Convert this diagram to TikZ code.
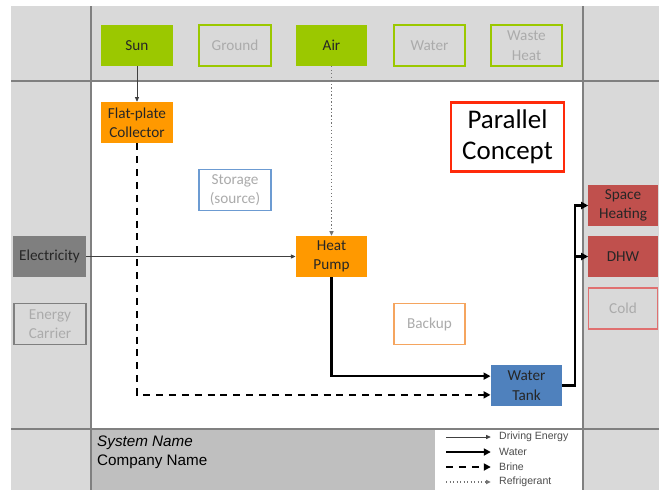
\documentclass[tikz,border=0pt]{standalone}
\usepackage[dvipsnames]{xcolor}
\usepackage{fontspec}
\setmainfont{Carlito}
\newfontfamily\arialfont{Liberation Sans}
\usetikzlibrary{arrows.meta}

\definecolor{bgcol}{HTML}{D9D9D9}
\definecolor{footcol}{HTML}{BFBFBF}
\definecolor{linecol}{HTML}{808080}
\definecolor{greenc}{HTML}{9BC800}
\definecolor{orangec}{HTML}{FF9900}
\definecolor{redc}{HTML}{C0504D}
\definecolor{tankc}{HTML}{4F81BD}
\definecolor{elecc}{HTML}{7F7F7F}
\definecolor{storc}{HTML}{6C9BD2}
\definecolor{backc}{HTML}{F5A55F}
\definecolor{coldc}{HTML}{E07070}
\definecolor{pcred}{HTML}{FF2A0A}

\begin{document}
\begin{tikzpicture}[x=0.03cm, y=-0.03cm]
  \tikzstyle{unit}=[rectangle, minimum width=61pt, minimum height=35pt, inner sep=0pt, align=center, font=\fontsize{13}{16.5}\selectfont]
  \tikzstyle{full}=[unit, text=black!85]
  \tikzstyle{open}=[unit, line width=1.5pt, text=black!33]
  \tikzstyle{drive}=[-{Triangle[length=4pt,width=3.5pt]}, line width=0.6pt, black!75]
  \tikzstyle{water}=[-{Triangle[length=6pt,width=6pt]}, line width=1.8pt, black]
  \tikzstyle{brine}=[water, dash pattern=on 6pt off 5pt]
  \tikzstyle{refr}=[-{Triangle[length=4pt,width=3.5pt]}, line width=1pt, dotted, black!55]
  \tikzstyle{legtext}=[anchor=west, inner sep=0pt, font=\arialfont\fontsize{9}{10}\selectfont, text=black!70]

  \clip (0,0) rectangle (659,490);
  % frame
  \fill[bgcol] (11,6) rectangle (659,490);
  \fill[white] (91,81) rectangle (583,429);
  \fill[footcol] (91,429) rectangle (435,490);
  \fill[white] (435,429) rectangle (583,490);
  \draw[linecol, line width=1.2pt] (91,6) -- (91,490);
  \draw[linecol, line width=1.2pt] (583,6) -- (583,490);
  \draw[linecol, line width=1.2pt] (11,81) -- (659,81);
  \draw[linecol, line width=1.2pt] (11,429) -- (659,429);

  % sources
  \node[full, fill=greenc] (N_sun) at (137,45.5) {Sun};
  \node[open, draw=greenc] (N_ground) at (235,45.5) {Ground};
  \node[full, fill=greenc] (N_air) at (331.5,45.5) {Air};
  \node[open, draw=greenc] (N_water) at (429.5,45.5) {Water};
  \node[open, draw=greenc] (N_waste) at (526.5,45.5) {Waste\\Heat};

  % components
  \node[full, fill=orangec] (N_coll) at (137,122.5) {Flat-plate\\Collector};
  \node[open, draw=storc] (N_stor) at (235,190) {Storage\\(source)};
  \node[full, fill=orangec] (N_hp) at (331.5,256.5) {Heat\\Pump};
  \node[open, draw=backc] (N_back) at (429.5,324) {Backup};
  \node[full, fill=tankc] (N_tank) at (526.5,385.5) {Water\\Tank};
  \node[unit, draw=pcred, line width=2pt, fill=white, minimum width=96pt, minimum height=59pt,
        font=\fontsize{23}{26}\selectfont] (N_pc) at (507.5,137) {Parallel\\Concept};

  % energy carriers
  \node[full, fill=elecc, minimum width=62pt] (N_elec) at (49.5,256.5) {Electricity};
  \node[open, draw=elecc, minimum width=62pt] (N_carr) at (50,324) {Energy\\Carrier};

  % sinks
  \node[full, fill=redc, minimum width=59pt] (N_sh) at (623,205.5) {Space\\Heating};
  \node[full, fill=redc, minimum width=59pt] (N_dhw) at (623,256.5) {DHW};
  \node[open, draw=coldc, minimum width=59pt] (N_cold) at (623,308.5) {Cold};

  % connections
  \draw[drive] (N_sun) -- (N_coll);
  \draw[refr] (N_air) -- (N_hp);
  \draw[drive] (N_elec) -- (N_hp);
  \draw[water] (N_hp.south) |- ([yshift=8pt]N_tank.west);
  \draw[brine] (N_coll.south) |- ([yshift=-8pt]N_tank.west);
  \coordinate (J_w) at (575,385.5);
  \draw[water] (N_tank.east) -- (J_w) |- (N_sh.west);
  \draw[water] (J_w) |- (N_dhw.west);

  % footer
  \node[anchor=west, align=left, inner sep=0pt, font=\arialfont\fontsize{13}{16}\selectfont] (N_name) at (97,452)
    {\textit{System Name}\\Company Name};
  \foreach \st/\lb/\yy [count=\i] in {drive/Driving Energy/437, water/Water/452, brine/Brine/467, refr/Refrigerant/482} {
    \node[legtext] (L_\i) at (499,\yy) {\lb};
    \coordinate (LS_\i) at (446,\yy);
    \draw[\st] (LS_\i) -- ([xshift=-7pt]L_\i.west);
  }
\end{tikzpicture}
\end{document}
